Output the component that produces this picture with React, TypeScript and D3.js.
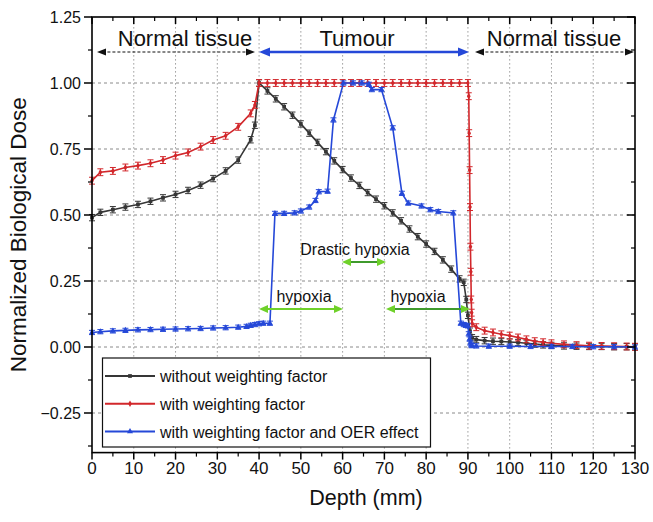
import React from 'react';
import * as d3 from 'd3';

// ---------------- data ----------------
const depthBlack = [0, 2, 5, 8, 11, 14, 17, 20, 23, 26, 29, 32, 35, 38, 39,
  40, 42, 44, 46, 48, 50, 52, 54, 56, 58, 60, 62, 64, 66, 68, 70, 72, 74, 76, 78, 80, 82, 84, 86, 88,
  89, 89.6, 90, 90.5, 91,
  92, 94, 96, 98, 100, 102, 104, 106, 108, 110,
  113, 116, 119, 122, 125, 128, 130];
const doseBlack = [0.49, 0.51, 0.52, 0.53, 0.54, 0.552, 0.565, 0.578, 0.593, 0.613, 0.638, 0.667, 0.708, 0.785, 0.84,
  1.0, 0.97, 0.94, 0.91, 0.878, 0.845, 0.81, 0.775, 0.74, 0.705, 0.672, 0.64, 0.612, 0.585, 0.56, 0.535, 0.508, 0.478, 0.447, 0.418, 0.39, 0.362, 0.33, 0.295, 0.258,
  0.245, 0.18, 0.12, 0.06, 0.035,
  0.028, 0.024, 0.022, 0.021, 0.019, 0.017, 0.014, 0.011, 0.008, 0.006,
  0.004, 0.003, 0.002, 0.002, 0.001, 0.001, 0];

const depthRed = [0, 2, 5, 8, 11, 14, 17, 20, 23, 26, 29, 32, 35, 38, 39,
  40, 42, 44, 46, 48, 50, 52, 54, 56, 58, 60, 62, 64, 66, 68, 70, 72, 74, 76, 78, 80, 82, 84, 86, 88, 90,
  90.2, 90.3, 90.4, 90.5, 90.6, 90.7, 90.8, 90.9, 91,
  92, 94, 96, 98, 100, 102, 104, 106, 108, 110,
  113, 116, 119, 122, 125, 128, 130];
const doseRed = [0.63, 0.662, 0.667, 0.68, 0.687, 0.696, 0.708, 0.725, 0.737, 0.759, 0.784, 0.8, 0.834, 0.885, 0.917,
  1.0, 1.0, 1.0, 1.0, 1.0, 1.0, 1.0, 1.0, 1.0, 1.0, 1.0, 1.0, 1.0, 1.0, 1.0, 1.0, 1.0, 1.0, 1.0, 1.0, 1.0, 1.0, 1.0, 1.0, 1.0, 1.0,
  0.95, 0.81, 0.67, 0.53, 0.38, 0.285, 0.18, 0.13, 0.09,
  0.075, 0.062, 0.055, 0.048, 0.043, 0.036, 0.029, 0.022, 0.018, 0.014,
  0.01, 0.007, 0.005, 0.004, 0.003, 0.002, 0.001];

const depthBlue = [0, 2, 5, 8, 11, 14, 17, 20, 23, 26, 29, 32, 35, 37, 38, 39, 40, 41, 42.6,
  43.8, 46, 48.5, 50, 52, 53.5, 54.3, 56.4,
  57.8, 60.2, 62.5, 64.6, 66.3, 67, 69.3, 72, 74.2, 75.7, 78.9, 81, 82.9, 86.5,
  88.3, 89, 89.5, 90, 90.2, 90.4, 90.6, 90.8, 91,
  92, 95, 100, 105, 110, 115, 120, 125, 130];
const doseBlue = [0.055, 0.058, 0.061, 0.063, 0.065, 0.066, 0.067, 0.068, 0.069, 0.07, 0.072, 0.073, 0.075, 0.078, 0.082, 0.085, 0.088, 0.09, 0.09,
  0.506, 0.506, 0.508, 0.515, 0.53, 0.555, 0.588, 0.59,
  0.86, 1.0, 1.0, 1.0, 0.995, 0.975, 0.975, 0.83, 0.582, 0.545, 0.534, 0.52, 0.513, 0.508,
  0.09, 0.085, 0.082, 0.08, 0.05, 0.03, 0.015, 0.008, 0.005,
  0.004, 0.003, 0.003, 0.002, 0.002, 0.002, 0.001, 0.001, 0];

const errBlack = 0.012;
const errRed = 0.013;
const errBlue = 0.008;

const xTicks = [0, 10, 20, 30, 40, 50, 60, 70, 80, 90, 100, 110, 120, 130];
const yTicks = [-0.25, 0, 0.25, 0.5, 0.75, 1.0, 1.25];
const yGrid = [-0.25, 0, 0.25, 0.5, 0.75, 1.0];
const xGrid = [10, 20, 30, 40, 50, 60, 70, 80, 90, 100, 110, 120];

const legendLabels = ['without weighting factor', 'with weighting factor', 'with weighting factor and OER effect'];

// ---------------- styles ----------------
const FONT = "Arial, 'Liberation Sans', sans-serif";
const cBlack = '#363636';
const cRed = '#d2272b';
const cBlue = '#2548d8';
const cGreen = '#6fd12a';
const cGreenDark = '#3f9a2c';

type Pt = [number, number];

export default function App() {
  const x = d3.scaleLinear().domain([0, 130]).range([92, 635]);
  const y = d3.scaleLinear().domain([-0.4, 1.25]).range([452.6, 17]);
  const x0 = x(0), x1 = x(130), y0 = y(-0.4), y1 = y(1.25);

  const line = d3.line<Pt>().x(d => x(d[0])).y(d => y(d[1]));
  const series = [
    { xs: depthBlack, ys: doseBlack, color: cBlack, err: errBlack, sym: d3.symbolSquare, size: 14 },
    { xs: depthRed, ys: doseRed, color: cRed, err: errRed, sym: d3.symbolDiamond, size: 12 },
    { xs: depthBlue, ys: doseBlue, color: cBlue, err: errBlue, sym: d3.symbolTriangle, size: 16 },
  ];

  const minorY = d3.range(-0.375, 1.25, 0.25);
  const minorX = d3.range(5, 130, 10);

  const arrowLine = (xa: number, xb: number, yy: number, color: string, dash: string | undefined, sw: number, hl: number, hw: number, shaftColor?: string) => {
    const pa = `M${xa},${yy} L${xa + hl},${yy - hw / 2} L${xa + hl},${yy + hw / 2} Z`;
    const pb = `M${xb},${yy} L${xb - hl},${yy - hw / 2} L${xb - hl},${yy + hw / 2} Z`;
    return (
      <g>
        <line x1={xa + hl * 0.6} x2={xb - hl * 0.6} y1={yy} y2={yy} stroke={shaftColor || color} strokeWidth={sw} strokeDasharray={dash} />
        <path d={pa} fill={color} />
        <path d={pb} fill={color} />
      </g>
    );
  };

  return (
    <svg width={653} height={522} style={{ position: 'absolute', left: 0, top: 0, background: '#fff' }} fontFamily={FONT}>
      <rect x={0} y={0} width={653} height={522} fill="#fff" />
      {/* grid */}
      {yGrid.map(v => (
        <line key={'gy' + v} x1={x0} x2={x1} y1={y(v)} y2={y(v)} stroke="#8a8a8a" strokeWidth={1} strokeDasharray="3,3" />
      ))}
      {xGrid.map(v => (
        <line key={'gx' + v} x1={x(v)} x2={x(v)} y1={y0} y2={y1} stroke="#9a9a9a" strokeWidth={1} strokeDasharray="1.5,2.5" />
      ))}

      {/* series */}
      {series.map((s, i) => {
        const pts: Pt[] = s.xs.map((v, k) => [v, s.ys[k]]);
        const sym = d3.symbol().type(s.sym).size(s.size)();
        return (
          <g key={'s' + i}>
            <path d={line(pts) || ''} fill="none" stroke={s.color} strokeWidth={1.6} />
            {pts.map((p, k) => (
              <g key={k}>
                <line x1={x(p[0])} x2={x(p[0])} y1={y(p[1] - s.err)} y2={y(p[1] + s.err)} stroke={s.color} strokeWidth={1} />
                <line x1={x(p[0]) - 3} x2={x(p[0]) + 3} y1={y(p[1] + s.err)} y2={y(p[1] + s.err)} stroke={s.color} strokeWidth={1} />
                <line x1={x(p[0]) - 3} x2={x(p[0]) + 3} y1={y(p[1] - s.err)} y2={y(p[1] - s.err)} stroke={s.color} strokeWidth={1} />
                <path d={sym || ''} transform={`translate(${x(p[0])},${y(p[1])})`} fill={s.color} />
              </g>
            ))}
          </g>
        );
      })}

      {/* annotations top */}
      <text x={185} y={46} fontSize={22} textAnchor="middle" fill="#111">Normal tissue</text>
      <text x={357} y={46} fontSize={22} textAnchor="middle" fill="#111">Tumour</text>
      <text x={554} y={46} fontSize={22} textAnchor="middle" fill="#111">Normal tissue</text>
      {arrowLine(97, 255, 52, '#111', '3,2', 1.2, 9, 7)}
      {arrowLine(259, 469, 52, cBlue, undefined, 2.6, 11, 9)}
      {arrowLine(475, 634, 52, '#111', '3,2', 1.2, 9, 7)}

      {/* hypoxia annotations */}
      <text x={355} y={255} fontSize={16} textAnchor="middle" fill="#111">Drastic hypoxia</text>
      {arrowLine(342, 386, 262, cGreen, undefined, 2, 9, 8, cGreenDark)}
      <text x={304} y={302} fontSize={16} textAnchor="middle" fill="#111">hypoxia</text>
      {arrowLine(259, 343, 309, cGreen, undefined, 2, 9, 8)}
      <text x={418} y={302} fontSize={16} textAnchor="middle" fill="#111">hypoxia</text>
      {arrowLine(386, 470, 309, cGreen, undefined, 2, 9, 8, cGreenDark)}

      {/* legend */}
      <rect x={102.5} y={358} width={328} height={89} fill="#fff" stroke="#111" strokeWidth={1.2} />
      {series.map((s, i) => {
        const ly = 376 + i * 27.8;
        const sym = d3.symbol().type(s.sym).size(s.size)();
        return (
          <g key={'lg' + i}>
            <line x1={105} x2={155} y1={ly} y2={ly} stroke={s.color} strokeWidth={2} />
            <path d={sym || ''} transform={`translate(130,${ly})`} fill={s.color} />
            <text x={160} y={ly + 6} fontSize={16} fill="#111">{legendLabels[i]}</text>
          </g>
        );
      })}

      {/* axes frame */}
      <rect x={x0} y={y1} width={x1 - x0} height={y0 - y1} fill="none" stroke="#000" strokeWidth={1.6} />
      {yTicks.map(v => (
        <g key={'yl' + v}>
          <line x1={x0 - 8} x2={x0} y1={y(v)} y2={y(v)} stroke="#000" strokeWidth={1.5} />
          <line x1={x1} x2={x1 - 8} y1={y(v)} y2={y(v)} stroke="#000" strokeWidth={1.5} />
          <text x={x0 - 11} y={y(v) + 5.5} fontSize={16} textAnchor="end" fill="#111">{d3.format('.2f')(v)}</text>
        </g>
      ))}
      {minorY.map(v => (
        <g key={'ym' + v}>
          <line x1={x0 - 4} x2={x0} y1={y(v)} y2={y(v)} stroke="#000" strokeWidth={1.2} />
          <line x1={x1} x2={x1 - 4} y1={y(v)} y2={y(v)} stroke="#000" strokeWidth={1.2} />
        </g>
      ))}
      {xTicks.map(v => (
        <g key={'xt' + v}>
          <line x1={x(v)} x2={x(v)} y1={y0} y2={y0 + 7} stroke="#000" strokeWidth={1.5} />
          <line x1={x(v)} x2={x(v)} y1={y1} y2={y1 + 7} stroke="#000" strokeWidth={1.5} />
          <text x={x(v)} y={474} fontSize={17} textAnchor="middle" fill="#111">{v}</text>
        </g>
      ))}
      {minorX.map(v => (
        <g key={'xm' + v}>
          <line x1={x(v)} x2={x(v)} y1={y0} y2={y0 + 4} stroke="#000" strokeWidth={1.2} />
          <line x1={x(v)} x2={x(v)} y1={y1} y2={y1 + 4} stroke="#000" strokeWidth={1.2} />
        </g>
      ))}

      {/* axis titles */}
      <text x={366} y={505} fontSize={21.5} textAnchor="middle" fill="#111">Depth (mm)</text>
      <text transform={`translate(26,${(y0 + y1) / 2}) rotate(-90)`} fontSize={22.5} textAnchor="middle" fill="#111">Normalized Biological Dose</text>
    </svg>
  );
}
